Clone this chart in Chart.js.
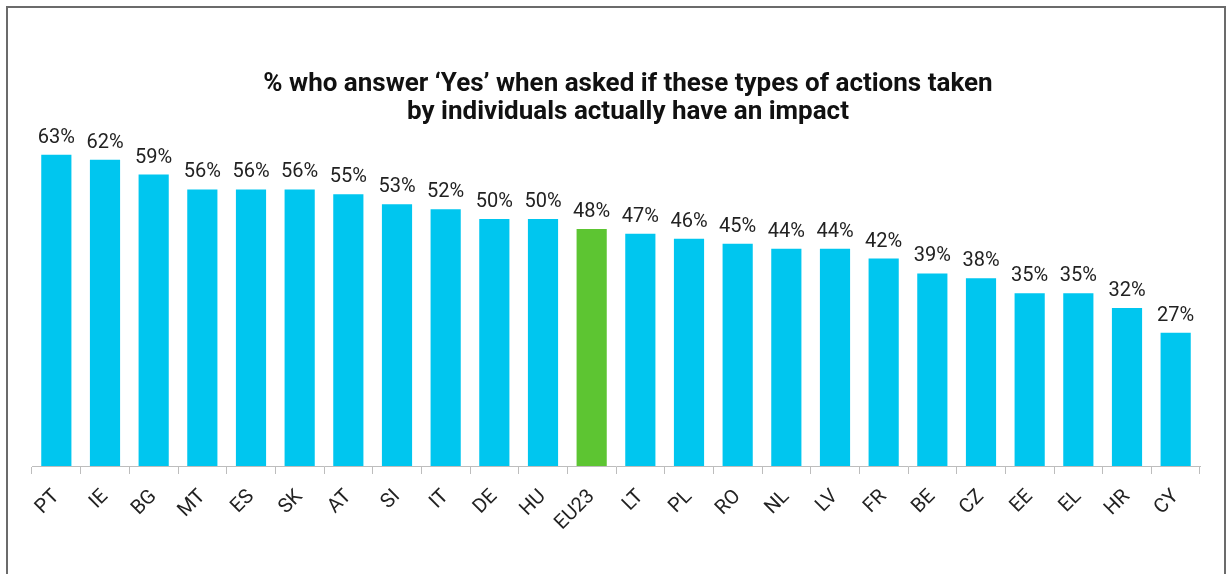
<!DOCTYPE html>
<html>
<head>
<meta charset="utf-8">
<script src="https://cdn.jsdelivr.net/npm/chart.js@4.4.1/dist/chart.umd.min.js"></script>
<style>
  html, body { margin: 0; padding: 0; background: #fff; }
  body { width: 1227px; height: 574px; position: relative; overflow: hidden; }
  #frame {
    position: absolute; left: 6px; top: 6px; width: 1220px; height: 600px;
    border: 2px solid #6b6b6b; box-sizing: border-box;
  }
  #wrap { position: absolute; left: 0; top: 0; width: 1227px; height: 574px; }
</style>
</head>
<body>
<div id="frame"></div>
<div id="wrap"><canvas id="chart" width="1227" height="574"></canvas></div>
<script>
// Countries, ordered by share of "Yes" answers
const countries = ['PT','IE','BG','MT','ES','SK','AT','SI','IT','DE','HU','EU23',
                   'LT','PL','RO','NL','LV','FR','BE','CZ','EE','EL','HR','CY'];
const yesShare = [63, 62, 59, 56, 56, 56, 55, 53, 52, 50, 50, 48,
                  47, 46, 45, 44, 44, 42, 39, 38, 35, 35, 32, 27];
const titleLines = ['% who answer \u2018Yes\u2019 when asked if these types of actions taken',
                    'by individuals actually have an impact'];

const CYAN = '#00C6EF';
const GREEN = '#5DC532';
const barColors = countries.map(c => c === 'EU23' ? GREEN : CYAN);

// Percentage labels above each bar
const valueLabels = {
  id: 'valueLabels',
  afterDatasetsDraw(chart) {
    const { ctx } = chart;
    const meta = chart.getDatasetMeta(0);
    ctx.save();
    ctx.font = '20px Roboto';
    ctx.fillStyle = '#222';
    ctx.textAlign = 'center';
    ctx.textBaseline = 'alphabetic';
    meta.data.forEach((bar, i) => {
      ctx.fillText(yesShare[i] + '%', bar.x, bar.y - 12);
    });
    ctx.restore();
  }
};

new Chart(document.getElementById('chart'), {
  type: 'bar',
  data: {
    labels: countries,
    datasets: [{
      data: yesShare,
      backgroundColor: barColors,
      borderWidth: 0,
      categoryPercentage: 1,
      barPercentage: 0.62
    }]
  },
  options: {
    responsive: false,
    animation: false,
    layout: { padding: { left: 32, right: 3, top: 0, bottom: 0 } },
    plugins: {
      legend: { display: false },
      tooltip: { enabled: false },
      title: {
        display: true,
        text: titleLines,
        color: '#111',
        font: { family: 'Roboto', size: 26, weight: 'bold', lineHeight: 1.08 },
        padding: { top: 70, bottom: 3 }
      }
    },
    scales: {
      x: {
        offset: true,
        grid: { display: true, drawOnChartArea: false, offset: true, tickLength: 8, color: '#bdbdbd', lineWidth: 1 },
        border: { display: true, color: '#bdbdbd', width: 1 },
        ticks: {
          color: '#222', font: { family: 'Roboto', size: 20 },
          maxRotation: 45, minRotation: 45, padding: 11, autoSkip: false
        },
        afterFit(scale) { scale.height = 108; }
      },
      y: {
        position: 'right',
        min: 0, max: 68.2,
        grid: { display: false },
        border: { display: false },
        ticks: { display: false },
        afterFit(scale) { scale.width = 24; }
      }
    }
  },
  plugins: [valueLabels]
});
</script>
</body>
</html>
